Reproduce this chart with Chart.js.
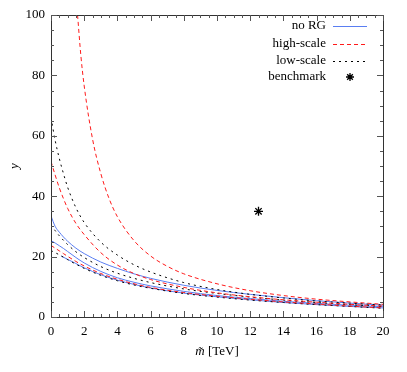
<!DOCTYPE html>
<html>
<head>
<meta charset="utf-8">
<script src="https://cdn.jsdelivr.net/npm/chart.js@4/dist/chart.umd.min.js"></script>
<style>
html,body{margin:0;padding:0;background:#fff;}
#wrap{width:407px;height:372px;position:relative;}
</style>
</head>
<body>
<div id="wrap"><canvas id="c" width="407" height="372"></canvas></div>
<script>
// ---- data ----
const mGrid = [0, 0.25, 0.5, 0.75, 1, 1.5, 2, 3, 4, 5, 6, 8, 10, 12, 14, 16, 18, 20];

const noRG1 = [33.5, 30.0, 28.1, 26.5, 25.1, 22.8, 21.0, 18.2, 16.1, 14.3, 12.8, 10.5, 8.8, 7.5, 6.4, 5.4, 4.6, 3.9];
const noRG2 = [25.3, 24.5, 23.6, 22.7, 21.7, 19.7, 17.9, 15.1, 13.0, 11.5, 10.3, 8.5, 7.1, 6.1, 5.2, 4.5, 3.9, 3.4];
const noRG3m = [0.6, 0.75, 1, 1.5, 2, 3, 4, 5, 6, 8, 10, 12, 14, 16, 18, 20];
const noRG3 = [20.2, 19.8, 19.1, 17.7, 16.3, 14.0, 12.2, 10.8, 9.6, 7.9, 6.7, 5.7, 4.8, 4.1, 3.5, 3.0];

const high1m = [1.6, 1.8, 2, 2.5, 3, 3.5, 4, 5, 6, 7, 8, 10, 12, 14, 16, 18, 20];
const high1 = [100, 86.5, 76.5, 59, 47.5, 39.2, 33.2, 25.3, 20.2, 16.8, 14.3, 11.0, 8.7, 7.1, 5.9, 5.0, 4.2];
const high2 = [51.5, 47.0, 42.8, 39.2, 36.0, 31.0, 27.3, 21.3, 17.2, 14.4, 12.4, 9.8, 8.0, 6.7, 5.7, 4.9, 4.2, 3.6];
const high3 = [23.7, 22.8, 21.9, 21.0, 20.1, 18.4, 16.9, 14.4, 12.5, 11.0, 9.8, 8.1, 6.9, 5.9, 5.0, 4.3, 3.6, 3.0];

const low1 = [66, 58.5, 52.5, 47.5, 43.0, 36.2, 31.3, 24.8, 20.5, 17.3, 14.9, 11.4, 9.1, 7.5, 6.3, 5.3, 4.6, 4.0];
const low2 = [30.5, 28.6, 26.9, 25.4, 24.0, 21.6, 19.7, 16.7, 14.5, 12.8, 11.4, 9.3, 7.8, 6.6, 5.6, 4.8, 4.1, 3.5];
const low3 = [22.0, 21.3, 20.6, 19.8, 19.0, 17.5, 16.1, 13.8, 12.0, 10.6, 9.5, 7.8, 6.6, 5.6, 4.8, 4.1, 3.5, 2.9];

const benchmarkM = [12.5];
const benchmarkY = [35];

const legendLabels = ['no RG', 'high-scale', 'low-scale', 'benchmark'];
const xTickValues = [0, 2, 4, 6, 8, 10, 12, 14, 16, 18, 20];
const yTickValues = [0, 20, 40, 60, 80, 100];

// ---- styling ----
const BLUE = '#5a7ef2';
const RED = '#ff1a1a';
const BLACK = '#000000';
const SERIF = '"Liberation Serif", "DejaVu Serif", serif';

function pts(xs, ys) { return xs.map((x, i) => ({x: x, y: ys[i]})); }
function line(xs, ys, color, dash) {
  return {
    data: pts(xs, ys), borderColor: color, borderWidth: 1, borderDash: dash,
    pointRadius: 0, fill: false, cubicInterpolationMode: 'monotone', showLine: true
  };
}

const datasets = [
  line(high1m, high1, RED, [4, 3]),
  line(mGrid, high2, RED, [4, 3]),
  line(mGrid, high3, RED, [4, 3]),
  line(mGrid, low1, BLACK, [2, 4]),
  line(mGrid, low2, BLACK, [2, 4]),
  line(mGrid, low3, BLACK, [2, 4]),
  line(mGrid, noRG1, BLUE, []),
  line(mGrid, noRG2, BLUE, []),
  line(noRG3m, noRG3, BLUE, []),
  {
    data: pts(benchmarkM, benchmarkY), showLine: false, pointStyle: 'star',
    pointRadius: 4.5, borderColor: BLACK, backgroundColor: BLACK, pointBorderWidth: 1.3, borderWidth: 1.3
  }
];

const legendStyles = [
  {color: BLUE, dash: []},
  {color: RED, dash: [4, 3]},
  {color: BLACK, dash: [2, 4]},
  {star: true}
];

const framePlugin = {
  id: 'frame',
  afterDraw(chart) {
    const ctx = chart.ctx, a = chart.chartArea;
    const xs = chart.scales.x, ys = chart.scales.y;
    ctx.save();
    ctx.strokeStyle = '#333';
    ctx.lineWidth = 1;
    ctx.setLineDash([]);
    ctx.strokeRect(Math.round(a.left) + 0.5, Math.round(a.top) + 0.5,
                   Math.round(a.right - a.left), Math.round(a.bottom - a.top));
    ctx.strokeStyle = '#555';
    for (let v = 0; v <= 20.0001; v += 0.5) {
      const p = Math.round(xs.getPixelForValue(v)) + 0.5;
      const len = (Math.abs(v / 2 - Math.round(v / 2)) < 1e-6) ? 6 : 3;
      ctx.beginPath();
      ctx.moveTo(p, a.bottom); ctx.lineTo(p, a.bottom - len);
      ctx.moveTo(p, a.top); ctx.lineTo(p, a.top + len);
      ctx.stroke();
    }
    for (let v = 0; v <= 100.0001; v += 5) {
      const p = Math.round(ys.getPixelForValue(v)) + 0.5;
      const len = (v % 20 === 0) ? 6 : 3;
      ctx.beginPath();
      ctx.moveTo(a.left, p); ctx.lineTo(a.left + len, p);
      ctx.moveTo(a.right, p); ctx.lineTo(a.right - len, p);
      ctx.stroke();
    }
    // legend
    ctx.font = '13px ' + SERIF;
    ctx.textAlign = 'right';
    ctx.textBaseline = 'middle';
    ctx.fillStyle = '#000';
    const rowY = [a.top + 11, a.top + 28.5, a.top + 46, a.top + 62];
    const textR = a.right - 57, s0 = a.right - 50, s1 = a.right - 16;
    legendLabels.forEach((lab, i) => {
      const y = rowY[i];
      ctx.fillText(lab, textR, y);
      const st = legendStyles[i];
      if (st.star) {
        const cx = (s0 + s1) / 2, r = 4;
        ctx.strokeStyle = BLACK; ctx.lineWidth = 1.3; ctx.setLineDash([]);
        ctx.beginPath();
        for (let k = 0; k < 4; k++) {
          const ang = k * Math.PI / 4;
          ctx.moveTo(cx - r * Math.sin(ang), y - r * Math.cos(ang));
          ctx.lineTo(cx + r * Math.sin(ang), y + r * Math.cos(ang));
        }
        ctx.stroke();
      } else {
        ctx.strokeStyle = st.color; ctx.lineWidth = 1; ctx.setLineDash(st.dash);
        ctx.beginPath();
        ctx.moveTo(s0, Math.round(y) + 0.5); ctx.lineTo(s1, Math.round(y) + 0.5);
        ctx.stroke();
      }
    });
    ctx.setLineDash([]);
    // axis titles
    ctx.fillStyle = '#000';
    ctx.textBaseline = 'middle';
    ctx.save();
    ctx.translate(15, (a.top + a.bottom) / 2);
    ctx.rotate(-Math.PI / 2);
    ctx.textAlign = 'center';
    ctx.font = 'italic 13px ' + SERIF;
    ctx.fillText('y', 0, 0);
    ctx.restore();
    const part1 = 'm\u0303', part2 = ' [TeV]';
    ctx.font = 'italic 13px ' + SERIF;
    const w1 = ctx.measureText(part1).width;
    ctx.font = '13px ' + SERIF;
    const w2 = ctx.measureText(part2).width;
    const cx = (a.left + a.right) / 2 - (w1 + w2) / 2;
    const ty = 352;
    ctx.textAlign = 'left';
    ctx.font = 'italic 13px ' + SERIF;
    ctx.fillText(part1, cx, ty);
    ctx.font = '13px ' + SERIF;
    ctx.fillText(part2, cx + w1, ty);
    ctx.restore();
  }
};

new Chart(document.getElementById('c'), {
  type: 'scatter',
  data: {datasets: datasets},
  options: {
    responsive: false,
    animation: false,
    layout: {padding: {left: 0, right: 24, top: 15, bottom: 0}},
    plugins: {legend: {display: false}, tooltip: {enabled: false}},
    scales: {
      x: {
        type: 'linear', min: 0, max: 20,
        afterBuildTicks: s => { s.ticks = xTickValues.map(v => ({value: v})); },
        afterFit: s => { s.height = 55; },
        grid: {display: false, drawTicks: false},
        border: {display: false},
        ticks: {color: '#000', font: {family: SERIF, size: 13}, padding: 7, maxRotation: 0}
      },
      y: {
        type: 'linear', min: 0, max: 100,
        afterBuildTicks: s => { s.ticks = yTickValues.map(v => ({value: v})); },
        afterFit: s => { s.width = 51; },
        grid: {display: false, drawTicks: false},
        border: {display: false},
        ticks: {color: '#000', font: {family: SERIF, size: 13}, padding: 6}
      }
    }
  },
  plugins: [framePlugin]
});
</script>
</body>
</html>
